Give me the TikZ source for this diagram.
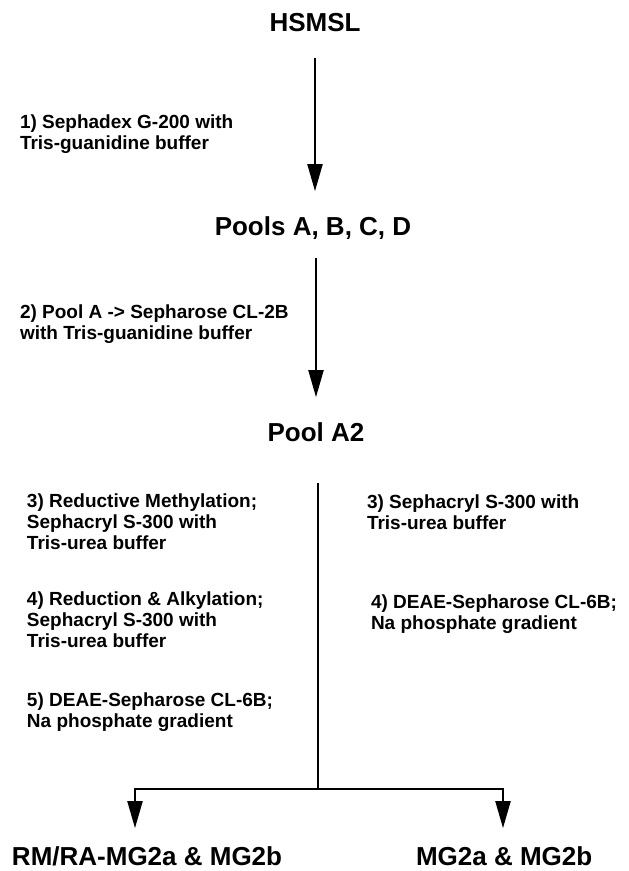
\documentclass[tikz,border=0pt]{standalone}
\usepackage{fontspec}
\setmainfont{Liberation Sans}
\usetikzlibrary{arrows.meta}
\begin{document}
\begin{tikzpicture}[x=1pt,y=-1pt,
  title/.style={font=\fontsize{26}{30}\selectfont\bfseries, inner sep=0pt, outer sep=0pt, anchor=base},
  lbl/.style={font=\fontsize{19}{21}\selectfont\bfseries, inner sep=0pt, outer sep=0pt, anchor=base west},
  outtitle/.style={title, anchor=base west},
  conn/.style={line width=2pt},
  arr/.style={conn, -{Triangle[length=27pt,width=15pt]}}]
\useasboundingbox (0,0) rectangle (629,871);
\fill[white] (0,0) rectangle (629,871);
% titles
\node[title] (h) at (315,31) {HSMSL};
\node[title] (p) at (313,235) {Pools A, B, C, D};
\node[title] (a2) at (316,441) {Pool A2};
\node[outtitle] (o1) at (12,865) {RM/RA-MG2a \& MG2b};
\node[outtitle] (o2) at (416,865) {MG2a \& MG2b};
% step labels
\node[lbl] (l1) at (20,128) {\vtop{\hbox{1) Sephadex G-200 with}\hbox{Tris-guanidine buffer}}};
\node[lbl] (l2) at (20,318) {\vtop{\hbox{2) Pool A -> Sepharose CL-2B}\hbox{with Tris-guanidine buffer}}};
\node[lbl] (l3) at (27,507) {\vtop{\hbox{3) Reductive Methylation;}\hbox{Sephacryl S-300 with}\hbox{Tris-urea buffer}}};
\node[lbl] (l4) at (27,605) {\vtop{\hbox{4) Reduction \& Alkylation;}\hbox{Sephacryl S-300 with}\hbox{Tris-urea buffer}}};
\node[lbl] (l5) at (27,706) {\vtop{\hbox{5) DEAE-Sepharose CL-6B;}\hbox{Na phosphate gradient}}};
\node[lbl] (r3) at (367,508) {\vtop{\hbox{3) Sephacryl S-300 with}\hbox{Tris-urea buffer}}};
\node[lbl] (r4) at (371,608) {\vtop{\hbox{4) DEAE-Sepharose CL-6B;}\hbox{Na phosphate gradient}}};
% junction coordinates
\coordinate (jc) at (318,789);
\coordinate (jl) at (135,789);
\coordinate (jr) at (503,789);
% connectors
\draw[arr, shorten <=27pt, shorten >=25pt] (h.south) -- (h.south |- p.north);
\draw[arr, shorten <=19pt, shorten >=25pt] (a2.north |- p.south) -- (a2.north);
\draw[conn, shorten <=42pt] (jc |- a2.south) -- (jc);
\draw[conn, line cap=rect] (jl) -- (jr);
\draw[arr, shorten >=18pt] (jl) -- (jl |- o1.north);
\draw[arr, shorten >=18pt] (jr) -- (jr |- o2.north);
\end{tikzpicture}
\end{document}
